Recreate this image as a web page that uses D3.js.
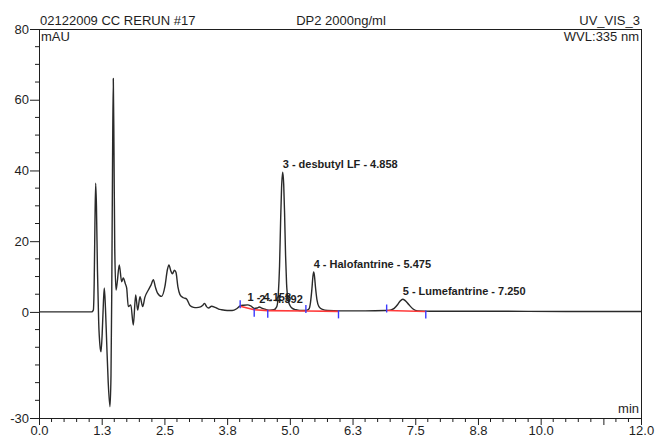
<!DOCTYPE html>
<html>
<head>
<meta charset="utf-8">
<script src="https://cdn.jsdelivr.net/npm/d3@7"></script>
<style>
  html, body { margin: 0; padding: 0; background: #fff; }
  svg { display: block; font-family: "Liberation Sans", Arial, sans-serif; }
</style>
</head>
<body>
<svg id="chart" width="656" height="437"></svg>
<script>
// ---- data ----
const times = [0, 1.05, 1.083, 1.10, 1.115, 1.13, 1.145, 1.165, 1.19, 1.215, 1.236, 1.26, 1.285, 1.302, 1.325, 1.35, 1.38, 1.415, 1.435, 1.45, 1.465, 1.481, 1.495, 1.51, 1.535, 1.56, 1.6, 1.648, 1.68, 1.72, 1.748, 1.78, 1.83, 1.88, 1.927, 1.967, 2.013, 2.067, 2.11, 2.18, 2.23, 2.28, 2.32, 2.36, 2.445, 2.51, 2.56, 2.59, 2.63, 2.66, 2.70, 2.73, 2.77, 2.81, 2.876, 2.94, 3.01, 3.08, 3.14, 3.22, 3.26, 3.30, 3.34, 3.38, 3.44, 3.51, 3.58, 3.64, 3.75, 3.85, 3.94, 4.01, 4.08, 4.16, 4.22, 4.29, 4.35, 4.39, 4.45, 4.52, 4.6, 4.68, 4.74, 4.77, 4.795, 4.815, 4.835, 4.858, 4.878, 4.895, 4.915, 4.935, 4.965, 5.0, 5.05, 5.12, 5.2, 5.32, 5.38, 5.41, 5.44, 5.46, 5.475, 5.49, 5.51, 5.54, 5.58, 5.65, 5.75, 6.0, 6.5, 6.9, 7.0, 7.08, 7.15, 7.2, 7.25, 7.3, 7.37, 7.45, 7.55, 7.8, 9.0, 10.5, 12.0];
const signal = [0, 0, 0.5, 8, 25, 36.4, 30, 12, -3, -9.5, -11.3, -6, 3, 6.8, 1, -9, -20, -26.8, -18, 5, 40, 66, 45, 18, 6.2, 8.5, 13.3, 8.5, 9.6, 8.0, 6.7, 1.5, 2.0, -3.7, 4.8, 0.5, 4.3, 1.5, 4.1, 6.2, 7.5, 9.1, 7.0, 5.4, 4.4, 7.2, 12, 13.3, 11.5, 10.8, 11.8, 11.2, 7.0, 4.9, 4.0, 3.7, 1.8, 1.3, 1.2, 1.4, 1.8, 2.4, 1.5, 1.1, 1.6, 1.3, 0.8, 0.6, 0.4, 0.4, 0.9, 1.7, 1.9, 2.0, 1.7, 1.0, 1.1, 1.4, 1.0, 0.7, 0.5, 0.6, 1.5, 5, 13, 25, 35, 39.5, 36, 28, 16, 8, 3.5, 1.9, 1.0, 0.6, 0.4, 0.4, 0.8, 2.5, 6.5, 10, 11.3, 10.3, 7.2, 3.5, 1.5, 0.7, 0.4, 0.3, 0.3, 0.4, 0.5, 1.0, 2.1, 3.1, 3.6, 3.2, 2.1, 0.9, 0.3, 0.2, 0.2, 0.1, 0.1];

const peakLabels = ["1 - 4.158", "2 - 4.392", "3 - desbutyl LF - 4.858", "4 - Halofantrine - 5.475", "5 - Lumefantrine - 7.250"];
const peakTimes = [4.158, 4.392, 4.858, 5.475, 7.250];
const peakHeights = [2.0, 1.4, 39.5, 11.3, 3.6];

// integration baselines: [startTime, startValue, endTime, endValue]
const baseStart = [4.01, 4.29, 4.56, 5.32, 6.93];
const baseStartVal = [1.6, 0.6, 0.35, 0.25, 0.4];
const baseEnd = [4.29, 4.56, 5.32, 5.97, 7.71];
const baseEndVal = [0.6, 0.35, 0.25, 0.15, 0.1];
// peak delimiter markers: time, value, direction (1 = up, -1 = down)
const markTimes = [4.01, 4.29, 4.56, 5.32, 5.97, 6.93, 7.71];
const markVals = [1.6, 0.6, 0.35, 0.25, 0.15, 0.4, 0.1];
const markDirs = [1, -1, -1, 1, -1, 1, -1];

const xTickVals = [0, 1.25, 2.5, 3.75, 5, 6.25, 7.5, 8.75, 10, 11.25, 12];
const xTickLabels = ["0.0", "1.3", "2.5", "3.8", "5.0", "6.3", "7.5", "8.8", "10.0", "", "12.0"];
const yTickVals = [80, 60, 40, 20, 0, -30];
const yTickLabels = ["80", "60", "40", "20", "0", "-30"];

const headerLeft = "02122009 CC RERUN #17";
const headerMid = "DP2 2000ng/ml";
const headerRight = "UV_VIS_3";
const yUnit = "mAU";
const wavelength = "WVL:335 nm";
const xUnit = "min";

// ---- drawing ----
const svg = d3.select("#chart");
const L = 39, R = 641, T = 29, B = 418;
const x = d3.scaleLinear().domain([0, 12]).range([L, R]);
const y = d3.scaleLinear().domain([-30, 80]).range([B, T]);
const ink = "#1e1e1e";
const fontSize = 13;

// minor x ticks
const minorX = d3.range(0, 12.001, 0.25).filter(v => !xTickVals.some(t => Math.abs(t - v) < 1e-6));
svg.append("g").selectAll("line").data(minorX).join("line")
  .attr("x1", d => x(d)).attr("x2", d => x(d))
  .attr("y1", B).attr("y2", B + 4)
  .attr("stroke", ink).attr("stroke-width", 1);

// x axis (major)
const xAxis = d3.axisBottom(x).tickValues(xTickVals)
  .tickFormat((d, i) => xTickLabels[i]).tickSize(7).tickPadding(4);
const gx = svg.append("g").attr("transform", `translate(0,${B})`).call(xAxis);
gx.select(".domain").attr("stroke", ink);
gx.selectAll(".tick line").attr("stroke", ink);
gx.selectAll(".tick text").attr("fill", ink).attr("font-size", fontSize)
  .attr("font-family", "Liberation Sans, Arial, sans-serif")
  .attr("dy", null).attr("y", 17);

// minor y ticks
const minorY = d3.range(-30, 80.001, 5).filter(v => !yTickVals.includes(v));
svg.append("g").selectAll("line").data(minorY).join("line")
  .attr("x1", L - 4).attr("x2", L)
  .attr("y1", d => y(d)).attr("y2", d => y(d))
  .attr("stroke", ink).attr("stroke-width", 1);

const yAxis = d3.axisLeft(y).tickValues(yTickVals)
  .tickFormat((d, i) => yTickLabels[i]).tickSize(9).tickPadding(1);
const gy = svg.append("g").attr("transform", `translate(${L},0)`).call(yAxis);
gy.select(".domain").attr("stroke", ink);
gy.selectAll(".tick line").attr("stroke", ink);
gy.selectAll(".tick text").attr("fill", ink).attr("font-size", fontSize)
  .attr("font-family", "Liberation Sans, Arial, sans-serif");

// frame top and right
svg.append("line").attr("x1", L).attr("x2", R).attr("y1", T + 0.5).attr("y2", T + 0.5).attr("stroke", ink);
svg.append("line").attr("x1", R + 0.5).attr("x2", R + 0.5).attr("y1", T).attr("y2", B).attr("stroke", ink);

// header texts
const txt = (s, xx, yy, anchor) => svg.append("text").text(s)
  .attr("x", xx).attr("y", yy).attr("text-anchor", anchor)
  .attr("font-size", fontSize).attr("fill", ink);
txt(headerLeft, L + 1, 25, "start");
txt(headerMid, 341, 25, "middle");
txt(headerRight, R - 1, 25, "end");
txt(yUnit, L + 2, 41, "start");
txt(wavelength, R - 2, 41, "end");
txt(xUnit, R - 2, 413, "end");

// chromatogram trace
const pts = times.map((t, i) => [t, signal[i]]);
const line = d3.line().x(d => x(d[0])).y(d => y(d[1])).curve(d3.curveMonotoneX);
svg.append("path").datum(pts).attr("d", line)
  .attr("fill", "none").attr("stroke", "#2a2a2a").attr("stroke-width", 1.4)
  .attr("stroke-linejoin", "round");

// integration baselines
svg.append("g").selectAll("line").data(baseStart).join("line")
  .attr("x1", (d, i) => x(d)).attr("y1", (d, i) => y(baseStartVal[i]))
  .attr("x2", (d, i) => x(baseEnd[i])).attr("y2", (d, i) => y(baseEndVal[i]))
  .attr("stroke", "#ff3a3a").attr("stroke-width", 1.6);

// delimiter markers
svg.append("g").selectAll("line").data(markTimes).join("line")
  .attr("x1", d => x(d)).attr("x2", d => x(d))
  .attr("y1", (d, i) => markDirs[i] > 0 ? y(markVals[i]) - 6 : y(markVals[i]) - 1)
  .attr("y2", (d, i) => markDirs[i] > 0 ? y(markVals[i]) + 2 : y(markVals[i]) + 7)
  .attr("stroke", "#3a3aff").attr("stroke-width", 1.4);

// peak labels
svg.append("g").selectAll("text").data(peakLabels).join("text")
  .text(d => d)
  .attr("x", (d, i) => x(peakTimes[i]))
  .attr("y", (d, i) => y(peakHeights[i]) - 4)
  .attr("font-size", 11).attr("font-weight", "bold").attr("fill", ink);
</script>
</body>
</html>
